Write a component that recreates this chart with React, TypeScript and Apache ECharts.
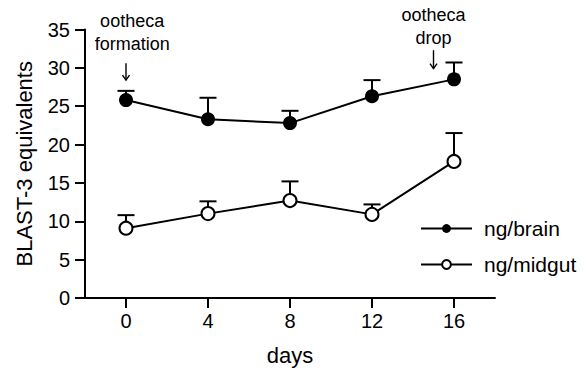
import React, { useEffect, useRef } from "react";
import * as echarts from "echarts";

const days = [0, 4, 8, 12, 16];
const brain = [25.8, 23.3, 22.8, 26.3, 28.5];
const brainSem = [1.2, 2.8, 1.6, 2.1, 2.2];
const midgut = [9.1, 11.0, 12.7, 10.9, 17.8];
const midgutSem = [1.7, 1.6, 2.5, 1.3, 3.7];
const xTicks = [0, 4, 8, 12, 16];
const seriesNames = ["ng/brain", "ng/midgut"];

const annotations = [
  { text: "ootheca\nformation", textDay: 0.3, textValue: 34.6, arrowDay: 0, arrowTop: 30.6, arrowTip: 28.4 },
  { text: "ootheca\ndrop", textDay: 15, textValue: 35.4, arrowDay: 15, arrowTop: 32.3, arrowTip: 29.9 },
];

const FONT = "'Liberation Sans', Arial, Helvetica, sans-serif";

const errorRender = (params: any, api: any) => {
  const x = api.value(0);
  const y = api.value(1);
  const top = api.value(2);
  const p = api.coord([x, y]);
  const t = api.coord([x, top]);
  const hw = 8.5;
  return {
    type: "group",
    children: [
      { type: "line", shape: { x1: p[0], y1: p[1], x2: t[0], y2: t[1] }, style: { stroke: "#000", lineWidth: 2 } },
      { type: "line", shape: { x1: t[0] - hw, y1: t[1], x2: t[0] + hw, y2: t[1] }, style: { stroke: "#000", lineWidth: 2 } },
    ],
  };
};

export default function App() {
  const ref = useRef<HTMLDivElement>(null);
  useEffect(() => {
    if (!ref.current) return;
    const chart = echarts.init(ref.current, null, { renderer: "svg" });
    const axisLine = { show: true, onZero: false, lineStyle: { color: "#000", width: 2 } };
    chart.setOption({
      animation: false,
      backgroundColor: "#fff",
      grid: { left: 85, right: 92, top: 29.5, bottom: 72 },
      legend: {
        data: seriesNames,
        orient: "vertical",
        left: 420,
        top: 218,
        itemWidth: 51,
        itemHeight: 11,
        itemGap: 15,
        padding: 0,
        textStyle: { fontSize: 21, fontFamily: FONT, color: "#000", padding: [0, 0, 0, 7] },
      },
      xAxis: {
        type: "value",
        min: -2,
        max: 18,
        name: "days",
        nameLocation: "middle",
        nameGap: 46,
        nameTextStyle: { fontSize: 22, fontFamily: FONT, color: "#000" },
        axisLine,
        axisTick: { show: true, customValues: xTicks, length: 10, inside: false, lineStyle: { color: "#000", width: 2 } },
        axisLabel: { customValues: xTicks, fontSize: 20, fontFamily: FONT, color: "#000", margin: 13 },
        splitLine: { show: false },
      },
      yAxis: {
        type: "value",
        min: 0,
        max: 35,
        interval: 5,
        name: "BLAST-3 equivalents",
        nameLocation: "middle",
        nameGap: 50,
        nameTextStyle: { fontSize: 22, fontFamily: FONT, color: "#000" },
        axisLine,
        axisTick: { show: true, length: 10, inside: false, lineStyle: { color: "#000", width: 2 } },
        axisLabel: { fontSize: 20, fontFamily: FONT, color: "#000", margin: 15 },
        splitLine: { show: false },
      },
      series: [
        {
          type: "custom",
          name: "brainErr",
          renderItem: errorRender,
          data: days.map((d, i) => [d, brain[i], brain[i] + brainSem[i]]),
          encode: { x: 0, y: [1, 2] },
          z: 1,
        },
        {
          type: "custom",
          name: "midgutErr",
          renderItem: errorRender,
          data: days.map((d, i) => [d, midgut[i], midgut[i] + midgutSem[i]]),
          encode: { x: 0, y: [1, 2] },
          z: 1,
        },
        {
          type: "line",
          name: seriesNames[0],
          data: days.map((d, i) => [d, brain[i]]),
          symbol: "circle",
          symbolSize: 14,
          lineStyle: { color: "#000", width: 2 },
          itemStyle: { color: "#000", borderColor: "#000", borderWidth: 0 },
          z: 3,
        },
        {
          type: "line",
          name: seriesNames[1],
          data: days.map((d, i) => [d, midgut[i]]),
          symbol: "circle",
          symbolSize: 13,
          lineStyle: { color: "#000", width: 2 },
          itemStyle: { color: "#fff", borderColor: "#000", borderWidth: 2 },
          z: 3,
        },
      ],
    });

    const graphics: any[] = [];
    annotations.forEach((a) => {
      const tp = chart.convertToPixel({ gridIndex: 0 }, [a.textDay, a.textValue]) as number[];
      const top = chart.convertToPixel({ gridIndex: 0 }, [a.arrowDay, a.arrowTop]) as number[];
      const tip = chart.convertToPixel({ gridIndex: 0 }, [a.arrowDay, a.arrowTip]) as number[];
      graphics.push({
        type: "text",
        x: tp[0],
        y: tp[1],
        style: {
          text: a.text,
          font: `18px ${FONT}`,
          fill: "#000",
          align: "center",
          verticalAlign: "middle",
          lineHeight: 23,
        },
      });
      graphics.push({
        type: "line",
        shape: { x1: top[0], y1: top[1], x2: tip[0], y2: tip[1] },
        style: { stroke: "#000", lineWidth: 1.4 },
      });
      graphics.push({
        type: "polyline",
        shape: { points: [[tip[0] - 3.5, tip[1] - 5], [tip[0], tip[1]], [tip[0] + 3.5, tip[1] - 5]] },
        style: { stroke: "#000", lineWidth: 1.4, fill: "none" },
      });
    });
    chart.setOption({ graphic: graphics });

    return () => chart.dispose();
  }, []);
  return (
    <div
      ref={ref}
      style={{ position: "fixed", top: 0, left: 0, width: 587, height: 371, background: "#fff" }}
    />
  );
}
